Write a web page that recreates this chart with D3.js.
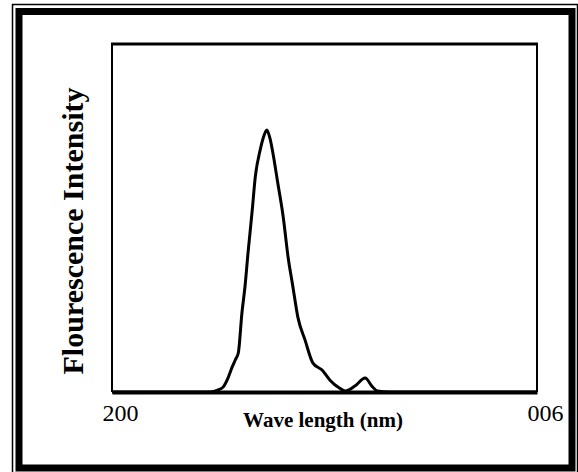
<!DOCTYPE html>
<html>
<head>
<meta charset="utf-8">
<script src="https://cdn.jsdelivr.net/npm/d3@7"></script>
<style>
  body { margin: 0; background: #fff; }
  svg { display: block; }
  text { font-family: "Liberation Serif", "Times New Roman", serif; fill: #000; }
</style>
</head>
<body>
<div id="chart"></div>
<script>
// wavelength (nm) and fluorescence intensity (arbitrary units)
const wavelength = [200, 345, 361, 375, 383, 391, 398, 403, 408, 414, 419, 424, 431, 436, 444, 450, 455, 460, 465, 473, 482, 490, 498, 506, 518, 531, 546, 559, 575, 584, 600, 617, 628, 637, 658, 900];
const intensity = [0, 0, 0, 0.6, 1.4, 4.0, 7.2, 9.2, 11.2, 22.7, 30.2, 39.9, 52.3, 61.8, 69.5, 73.5, 75.3, 73.0, 68.7, 60.1, 50.3, 38.8, 30.2, 21.6, 14.9, 8.3, 6.3, 3.4, 1.1, 0.3, 1.7, 4.0, 1.7, 0.3, 0, 0];
const xTickValues = [200, 900];
const xTickLabels = ["200", "006"];

const width = 578;
const height = 472;
const margin = { top: 44, right: 41, bottom: 80, left: 112 };

const svg = d3.select('#chart')
  .append('svg')
  .attr('width', width)
  .attr('height', height);

// double frame around the figure
svg.append('rect')
  .attr('x', 12.5).attr('y', 4.5)
  .attr('width', 565).attr('height', 470)
  .attr('fill', 'none').attr('stroke', '#000').attr('stroke-width', 1.5);
svg.append('rect')
  .attr('x', 19).attr('y', 11.5)
  .attr('width', 553).attr('height', 456.5)
  .attr('fill', 'none').attr('stroke', '#000').attr('stroke-width', 7);

const x = d3.scaleLinear()
  .domain([200, 900])
  .range([margin.left, width - margin.right]);

const y = d3.scaleLinear()
  .domain([0, 100])
  .range([height - margin.bottom, margin.top]);

// plot box
svg.append('line')
  .attr('x1', x(200) - 1).attr('x2', x(900) + 1)
  .attr('y1', y(100)).attr('y2', y(100))
  .attr('stroke', '#000').attr('stroke-width', 3);
svg.append('line')
  .attr('x1', x(200)).attr('x2', x(200))
  .attr('y1', y(100)).attr('y2', y(0))
  .attr('stroke', '#000').attr('stroke-width', 2);
svg.append('line')
  .attr('x1', x(900)).attr('x2', x(900))
  .attr('y1', y(100)).attr('y2', y(0))
  .attr('stroke', '#000').attr('stroke-width', 2);

// x axis: only the two end labels
const xAxis = svg.append('g')
  .attr('transform', `translate(0,${y(0)})`)
  .call(d3.axisBottom(x)
    .tickValues(xTickValues)
    .tickFormat((d, i) => xTickLabels[i])
    .tickSize(0)
    .tickPadding(12));
xAxis.select('.domain')
  .attr('stroke', '#000')
  .attr('stroke-width', 4);
xAxis.selectAll('text')
  .attr('dx', 8)
  .style('font-size', '24px')
  .style('font-family', '"Liberation Serif", serif');

// spectrum
const line = d3.line()
  .x((d, i) => x(wavelength[i]))
  .y(d => y(d))
  .curve(d3.curveMonotoneX);

svg.append('path')
  .datum(intensity)
  .attr('fill', 'none')
  .attr('stroke', '#000')
  .attr('stroke-width', 3)
  .attr('stroke-linejoin', 'round')
  .attr('d', line);

// axis titles
svg.append('text')
  .attr('x', 323)
  .attr('y', 427)
  .attr('text-anchor', 'middle')
  .style('font-weight', 'bold')
  .style('font-size', '21px')
  .text('Wave length (nm)');

svg.append('text')
  .attr('transform', 'translate(83,231) rotate(-90)')
  .attr('text-anchor', 'middle')
  .style('font-weight', 'bold')
  .style('font-size', '30px')
  .text('Flourescence Intensity');
</script>
</body>
</html>
